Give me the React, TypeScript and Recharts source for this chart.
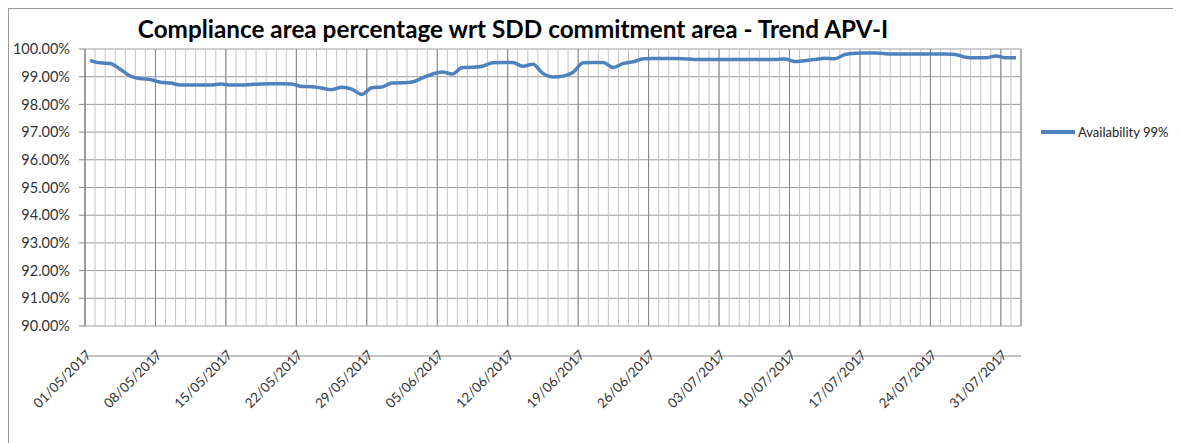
import React from 'react';
import { CartesianGrid, Legend, Line, LineChart, XAxis, YAxis } from 'recharts';

// one entry per day, 01/05/2017 .. 01/08/2017
const days = [
  '01/05/2017', '02/05/2017', '03/05/2017', '04/05/2017', '05/05/2017', '06/05/2017', '07/05/2017',
  '08/05/2017', '09/05/2017', '10/05/2017', '11/05/2017', '12/05/2017', '13/05/2017', '14/05/2017',
  '15/05/2017', '16/05/2017', '17/05/2017', '18/05/2017', '19/05/2017', '20/05/2017', '21/05/2017',
  '22/05/2017', '23/05/2017', '24/05/2017', '25/05/2017', '26/05/2017', '27/05/2017', '28/05/2017',
  '29/05/2017', '30/05/2017', '31/05/2017', '01/06/2017', '02/06/2017', '03/06/2017', '04/06/2017',
  '05/06/2017', '06/06/2017', '07/06/2017', '08/06/2017', '09/06/2017', '10/06/2017', '11/06/2017',
  '12/06/2017', '13/06/2017', '14/06/2017', '15/06/2017', '16/06/2017', '17/06/2017', '18/06/2017',
  '19/06/2017', '20/06/2017', '21/06/2017', '22/06/2017', '23/06/2017', '24/06/2017', '25/06/2017',
  '26/06/2017', '27/06/2017', '28/06/2017', '29/06/2017', '30/06/2017', '01/07/2017', '02/07/2017',
  '03/07/2017', '04/07/2017', '05/07/2017', '06/07/2017', '07/07/2017', '08/07/2017', '09/07/2017',
  '10/07/2017', '11/07/2017', '12/07/2017', '13/07/2017', '14/07/2017', '15/07/2017', '16/07/2017',
  '17/07/2017', '18/07/2017', '19/07/2017', '20/07/2017', '21/07/2017', '22/07/2017', '23/07/2017',
  '24/07/2017', '25/07/2017', '26/07/2017', '27/07/2017', '28/07/2017', '29/07/2017', '30/07/2017',
  '31/07/2017', '01/08/2017',
];

// Availability 99% (percent)
const availability = [
  99.59, 99.5, 99.48, 99.27, 99.02, 98.93, 98.9,
  98.8, 98.77, 98.7, 98.7, 98.7, 98.7, 98.74,
  98.7, 98.7, 98.72, 98.74, 98.75, 98.75, 98.74,
  98.65, 98.64, 98.59, 98.53, 98.62, 98.55, 98.36,
  98.6, 98.63, 98.77, 98.78, 98.81, 98.95, 99.09,
  99.17, 99.1, 99.33, 99.34, 99.38, 99.5, 99.51,
  99.51, 99.38, 99.45, 99.12, 98.99, 99.02, 99.16,
  99.5, 99.51, 99.51, 99.33, 99.48, 99.54, 99.65,
  99.66, 99.66, 99.66, 99.65, 99.62, 99.62, 99.62,
  99.62, 99.62, 99.62, 99.62, 99.62, 99.62, 99.64,
  99.55, 99.58, 99.62, 99.67, 99.65, 99.8, 99.85,
  99.86, 99.86, 99.83, 99.82, 99.82, 99.82, 99.82,
  99.82, 99.82, 99.8, 99.7, 99.68, 99.68, 99.75,
  99.68, 99.68,
];

const yTicks = [90, 91, 92, 93, 94, 95, 96, 97, 98, 99, 100];
const dayEdges = Array.from({ length: days.length + 1 }, (_, i) => i);
const weekEdges = dayEdges.filter((i) => i % 7 === 0 && i < days.length);

const data = availability.map((value, i) => ({ x: i + 0.5, date: days[i], value }));

const W = 1172;
const H = 420;
const LEFT = 76;
const RIGHT_PLOT = 1012;
const HALF_DAY = (RIGHT_PLOT - LEFT) / days.length / 2;
const FONT = 'Lato, "Open Sans", sans-serif';

function DateTick({ x, y, payload }: any) {
  const ax = x + HALF_DAY + 2;
  const ay = y - 6;
  return (
    <text
      x={ax}
      y={ay}
      transform={`rotate(-45 ${ax} ${ay})`}
      textAnchor="end"
      fontSize={13.5}
      fontFamily={FONT}
      fill="#333"
    >
      {days[payload.value]}
    </text>
  );
}

function LegendBox() {
  return (
    <div style={{ display: 'flex', alignItems: 'center', paddingLeft: 20, fontFamily: FONT, fontSize: 13, color: '#222' }}>
      <span style={{ display: 'inline-block', width: 34, height: 3.5, background: '#4f81bd', marginRight: 3 }} />
      Availability 99%
    </div>
  );
}

export default function App() {
  return (
    <div
      style={{
        position: 'relative',
        width: 1173,
        height: 435,
        borderTop: '1px solid #9a9a9a',
        borderLeft: '1px solid #9a9a9a',
        background: '#fff',
      }}
    >
      <div
        style={{
          position: 'absolute',
          left: 0,
          top: 5,
          width: 1008,
          textAlign: 'center',
          fontFamily: FONT,
          fontWeight: 700,
          fontSize: 24.3,
          color: '#000',
        }}
      >
        Compliance area percentage wrt SDD commitment area - Trend APV-I
      </div>
      <LineChart width={W} height={H} data={data} margin={{ top: 40, right: 0, bottom: 0, left: 0 }}>
        <CartesianGrid xAxisId="days" vertical={false} stroke="#9c9c9c" />
        <CartesianGrid xAxisId="days" horizontal={false} stroke="#c4c4c4" />
        <CartesianGrid xAxisId="weeks" horizontal={false} stroke="#858585" />
        <XAxis xAxisId="days" dataKey="x" type="number" domain={[0, days.length]} ticks={dayEdges} interval={0} hide />
        <XAxis
          xAxisId="weeks"
          dataKey="x"
          type="number"
          domain={[0, days.length]}
          ticks={weekEdges}
          interval={0}
          height={103}
          stroke="#858585"
          tickSize={6}
          tickMargin={0}
          tick={<DateTick />}
        />
        <YAxis
          domain={[90, 100]}
          ticks={yTicks}
          width={LEFT}
          interval={0}
          stroke="#858585"
          tickSize={6}
          tickMargin={9}
          tick={{ fill: '#333', fontSize: 14.5, fontFamily: FONT }}
          tickFormatter={(v: number) => `${v.toFixed(2)}%`}
        />
        <Legend
          layout="vertical"
          align="right"
          verticalAlign="top"
          width={160}
          wrapperStyle={{ top: 115 }}
          content={<LegendBox />}
        />
        <Line
          xAxisId="days"
          type="monotone"
          dataKey="value"
          name="Availability 99%"
          stroke="#4f81bd"
          strokeWidth={3.5}
          dot={false}
          activeDot={false}
          isAnimationActive={false}
        />
      </LineChart>
    </div>
  );
}
